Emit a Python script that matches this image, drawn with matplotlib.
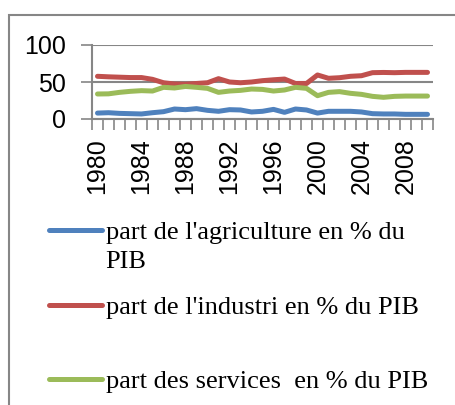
import numpy as np
import matplotlib
matplotlib.use("Agg")
from matplotlib import pyplot as plt
from matplotlib.patches import Rectangle
from matplotlib.lines import Line2D

years = list(range(1980, 2011))
agriculture = [8, 8.5, 7.6, 7.2, 6.8, 8.5, 9.9, 13.5, 12.6, 14, 11.7, 10.4, 12.6, 12.2, 9.5, 10.4,
               13, 9, 13.5, 12.2, 8, 10.4, 10.4, 10.4, 9.5, 7.2, 6.8, 6.8, 6.3, 6.3, 6.3]
industrie = [57.7, 57, 56.5, 56, 56, 53.6, 49, 47.3, 47, 48, 49, 54.5, 50, 49, 50, 51.8,
             53, 54, 48, 48, 59.5, 55, 55.8, 57.7, 58.5, 62.6, 62.9, 62.6, 63, 63, 63]
services = [33.8, 34, 36, 37.4, 38.3, 37.8, 42.8, 41.9, 44, 42.8, 41.4, 36, 37.8, 38.7, 40.5, 40,
            37.8, 39.2, 42.8, 41.4, 31.5, 36, 37, 34.7, 33.3, 30.6, 29.3, 30.6, 31, 31, 31]
labels = ["part de l'agriculture en % du",
          "part de l'industri en % du PIB",
          "part des services  en % du PIB"]
label_wrap = "PIB"  # second line of the first legend label
colors = ["#4F81BD", "#C0504D", "#9BBB59"]
grey = "#868686"

fig = plt.figure(figsize=(4.56, 4.05), dpi=100)
# outer chart frame
fig.patches.append(Rectangle((9/456, -0.1), 1.0, 1 - 15/405 + 0.1, transform=fig.transFigure,
                             fill=False, edgecolor=grey, linewidth=1.5))

ax = fig.add_axes([92/456, 1 - 119/405, (433 - 92)/456, (119 - 45)/405])
x = np.arange(len(years))
for ser, c in zip([agriculture, industrie, services], colors):
    ax.plot(x, ser, color=c, lw=3.6, solid_capstyle="round", solid_joinstyle="round")

ax.set_xlim(-0.5, len(years) - 0.5)
ax.set_ylim(0, 100)
ax.set_yticks([0, 50, 100])
ax.set_yticklabels(["0", "50", "100"], fontsize=18, family="Liberation Sans")
ax.yaxis.grid(True, color=grey, lw=1.5)
ax.set_axisbelow(True)
ax.tick_params(axis="y", length=8, width=1.2, color=grey, pad=11)

ax.set_xticks(x[::4])
ax.set_xticklabels([str(y) for y in years[::4]], rotation=90, fontsize=18,
                   family="Liberation Sans", va="top")
ax.set_xticks(np.arange(-0.5, len(years)), minor=True)
ax.tick_params(axis="x", which="major", length=0, pad=14)
ax.tick_params(axis="x", which="minor", length=8, width=1.2, color=grey)

for s in ["top", "right"]:
    ax.spines[s].set_visible(False)
for s in ["left", "bottom"]:
    ax.spines[s].set_color(grey)
    ax.spines[s].set_linewidth(1.5)

# legend entries, one per row, as in the original layout
rows = [232, 307, 381]
for lab, c, yrow in zip(labels, colors, rows):
    h = Line2D([], [], color=c, lw=3.6, solid_capstyle="round")
    fig.legend([h], [lab], loc="center left", bbox_to_anchor=(49/456, 1 - yrow/405),
               frameon=False, handlelength=2.0, handletextpad=0.15, borderpad=0, borderaxespad=0,
               prop={"family": "Liberation Serif", "size": 19})
fig.text(105/456, 1 - 262/405, label_wrap, family="Liberation Serif", fontsize=19,
         ha="left", va="center")

fig.savefig("out.png", dpi=100)
